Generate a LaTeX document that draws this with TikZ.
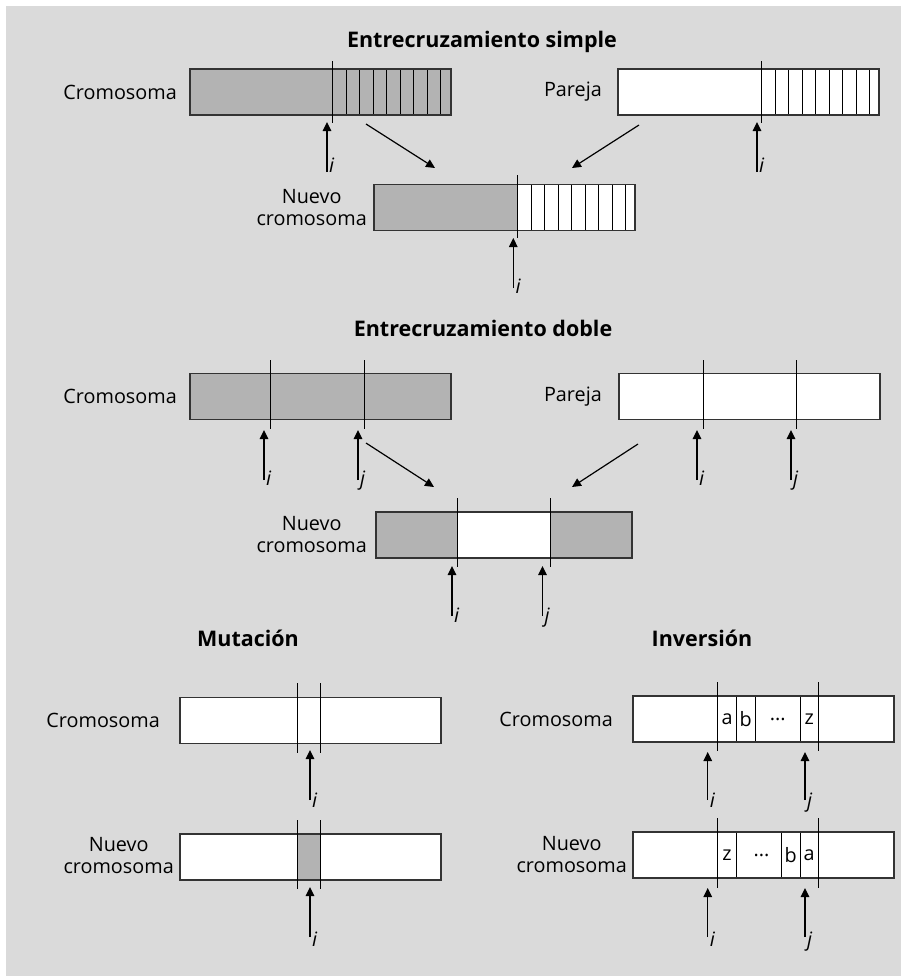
\documentclass[tikz,border=0pt]{standalone}
\usepackage{fontspec}
\setmainfont{Open Sans}
\usetikzlibrary{arrows.meta}
\definecolor{bggray}{HTML}{DADADA}
\definecolor{cgray}{HTML}{B3B3B3}
\definecolor{edge}{HTML}{333333}
\tikzset{
  chrom/.style={draw=edge, line width=1.1pt, inner sep=0pt, outer sep=0pt, anchor=north west, minimum width=261pt, minimum height=46pt},
  stripe/.style={draw=black, line width=0.8pt},
  cutline/.style={draw=black, line width=1pt},
  ptr/.style={draw=black, line width=1.3pt, -{Triangle[length=9pt,width=8.5pt]}},
  diag/.style={draw=black, line width=1.2pt, -{Triangle[length=9pt,width=8.5pt]}},
  lbl/.style={inner sep=0pt, font=\fontsize{19.8}{22}\selectfont},
  ttl/.style={inner sep=0pt, font=\fontsize{21.5}{24}\selectfont\bfseries, anchor=base},
  idx/.style={inner sep=0pt, font=\fontsize{19.8}{22}\selectfont\itshape, anchor=base west},
}
\begin{document}
\begin{tikzpicture}[x=1pt,y=-1pt]
\useasboundingbox (0,0) rectangle (901,978);
\fill[bggray] (6,6) rectangle (901,976);

% ================= Entrecruzamiento simple =================
\node[ttl] (t1) at (482,47) {Entrecruzamiento simple};

\node[lbl, anchor=east] (l1) at (177,92) {Cromosoma};
\node[chrom, fill=cgray] (c1) at (190,69) {};
\foreach \k in {0,...,7} \draw[stripe] ({346+13.5*\k},69) -- ({346+13.5*\k},115);
\draw[chrom] (c1.north west) rectangle (c1.south east);
\draw[cutline] (332.5,61) -- (332.5,123);
\coordinate (a1s) at (327,172); \coordinate (a1e) at (327,122);
\draw[ptr] (a1s) -- (a1e);
\node[idx] (i1) at (329,172) {i};

\node[lbl, anchor=east] (l2) at (602,92) {Pareja};
\node[chrom, fill=white] (p1) at (618,69) {};
\foreach \k in {0,...,7} \draw[stripe] ({775+13.5*\k},69) -- ({775+13.5*\k},115);
\draw[chrom] (p1.north west) rectangle (p1.south east);
\draw[cutline] (761.5,61) -- (761.5,123);
\coordinate (a2s) at (757,172); \coordinate (a2e) at (757,122);
\draw[ptr] (a2s) -- (a2e);
\node[idx] (i2) at (759,172) {i};

\coordinate (d1s) at (366,124); \coordinate (d1e) at (435,168);
\draw[diag] (d1s) -- (d1e);
\coordinate (d2s) at (639,125); \coordinate (d2e) at (572,168);
\draw[diag] (d2s) -- (d2e);

\node[lbl, anchor=east, align=center] (l3) at (367,208) {Nuevo\\cromosoma};
\node[chrom, fill=white] (n1) at (374,184.5) {};
\fill[cgray] (374,184.5) rectangle (517.7,230.5);
\foreach \k in {0,...,7} \draw[stripe] ({531+13.5*\k},184.5) -- ({531+13.5*\k},230.5);
\draw[chrom] (n1.north west) rectangle (n1.south east);
\draw[cutline, line width=1.4pt] (517.7,175) -- (517.7,238);
\coordinate (a3s) at (513.3,288); \coordinate (a3e) at (513.3,238);
\draw[ptr] (a3s) -- (a3e);
\node[idx] (i3) at (515.5,293) {i};

% ================= Entrecruzamiento doble =================
\node[ttl] (t2) at (483,336) {Entrecruzamiento doble};

\node[lbl, anchor=east] (l4) at (177,396.5) {Cromosoma};
\node[chrom, fill=cgray] (c2) at (190,373.5) {};
\draw[cutline] (270,360) -- (270,429);
\draw[cutline] (364,360) -- (364,429);
\coordinate (a4s) at (264,480); \coordinate (a4e) at (264,430);
\draw[ptr] (a4s) -- (a4e);
\node[idx] (i4) at (266,485) {i};
\coordinate (a5s) at (358,480); \coordinate (a5e) at (358,430);
\draw[ptr] (a5s) -- (a5e);
\node[idx] (j5) at (360,485) {j};

\node[lbl, anchor=east] (l5) at (602,396.5) {Pareja};
\node[chrom, fill=white] (p2) at (619,373.5) {};
\draw[cutline] (703,360) -- (703,429);
\draw[cutline] (796.5,360) -- (796.5,429);
\coordinate (a6s) at (697,480); \coordinate (a6e) at (697,430);
\draw[ptr] (a6s) -- (a6e);
\node[idx] (i6) at (699,485) {i};
\coordinate (a7s) at (791,480); \coordinate (a7e) at (791,430);
\draw[ptr] (a7s) -- (a7e);
\node[idx] (j7) at (793,485) {j};

\coordinate (d3s) at (366,443); \coordinate (d3e) at (434,487);
\draw[diag] (d3s) -- (d3e);
\coordinate (d4s) at (638,444); \coordinate (d4e) at (572,487);
\draw[diag] (d4s) -- (d4e);

\node[lbl, anchor=east, align=center] (l6) at (367,535) {Nuevo\\cromosoma};
\node[chrom, fill=cgray, minimum width=256pt] (n2) at (376,512) {};
\fill[white] (457.5,512) rectangle (550,558);
\draw[chrom] (n2.north west) rectangle (n2.south east);
\draw[cutline] (457.5,498) -- (457.5,567);
\draw[cutline] (550,498) -- (550,567);
\coordinate (a8s) at (452,616); \coordinate (a8e) at (452,566);
\draw[ptr] (a8s) -- (a8e);
\node[idx] (i8) at (454,622) {i};
\coordinate (a9s) at (542.5,616); \coordinate (a9e) at (542.5,566);
\draw[ptr] (a9s) -- (a9e);
\node[idx] (j9) at (544.5,622) {j};

% ================= Mutación =================
\node[ttl] (t3) at (248,646) {Mutación};

\node[lbl, anchor=east] (l7) at (160,720) {Cromosoma};
\node[chrom, fill=white] (m1) at (180,697.5) {};
\draw[cutline] (297.3,683) -- (297.3,753);
\draw[cutline] (320,683) -- (320,753);
\coordinate (a10s) at (310,800); \coordinate (a10e) at (310,750);
\draw[ptr] (a10s) -- (a10e);
\node[idx] (i10) at (312,807) {i};

\node[lbl, anchor=east, align=center] (l8) at (174,856) {Nuevo\\cromosoma};
\node[chrom, fill=white] (m2) at (180,834) {};
\fill[cgray] (297.3,834) rectangle (320,880);
\draw[chrom] (m2.north west) rectangle (m2.south east);
\draw[cutline] (297.3,820) -- (297.3,889);
\draw[cutline] (320,820) -- (320,889);
\coordinate (a11s) at (310,937); \coordinate (a11e) at (310,887);
\draw[ptr] (a11s) -- (a11e);
\node[idx] (i11) at (312,946) {i};

% ================= Inversión =================
\node[ttl] (t4) at (702,646) {Inversión};

\node[lbl, anchor=east] (l9) at (613,719) {Cromosoma};
\node[chrom, fill=white] (v1) at (633,696) {};
\foreach \x in {736.3,755.3,800.3} \draw[stripe] (\x,696) -- (\x,742);
\draw[chrom] (v1.north west) rectangle (v1.south east);
\draw[cutline] (717.7,682) -- (717.7,751);
\draw[cutline] (818,682) -- (818,751);
\node[lbl] (va) at (727,719) {a};
\node[lbl] (vb) at (745.8,719) {b};
\node[lbl] (vd) at (777.8,719) {...};
\node[lbl] (vz) at (809.2,719) {z};
\coordinate (a12s) at (707.7,800); \coordinate (a12e) at (707.7,752);
\draw[ptr] (a12s) -- (a12e);
\node[idx] (i12) at (709.7,807) {i};
\coordinate (a13s) at (805,800); \coordinate (a13e) at (805,752);
\draw[ptr] (a13s) -- (a13e);
\node[idx] (j13) at (807,807) {j};

\node[lbl, anchor=east, align=center] (l10) at (627,855) {Nuevo\\cromosoma};
\node[chrom, fill=white] (v2) at (633,832) {};
\foreach \x in {736.3,781,800.3} \draw[stripe] (\x,832) -- (\x,878);
\draw[chrom] (v2.north west) rectangle (v2.south east);
\draw[cutline] (717.7,818) -- (717.7,888);
\draw[cutline] (818,818) -- (818,888);
\node[lbl] (wz) at (727,855) {z};
\node[lbl] (wd) at (761.5,855) {...};
\node[lbl] (wb) at (790.6,855) {b};
\node[lbl] (wa) at (809.2,855) {a};
\coordinate (a14s) at (707.7,937); \coordinate (a14e) at (707.7,888);
\draw[ptr] (a14s) -- (a14e);
\node[idx] (i14) at (709.7,946) {i};
\coordinate (a15s) at (805,937); \coordinate (a15e) at (805,888);
\draw[ptr] (a15s) -- (a15e);
\node[idx] (j15) at (807,946) {j};
\end{tikzpicture}
\end{document}
